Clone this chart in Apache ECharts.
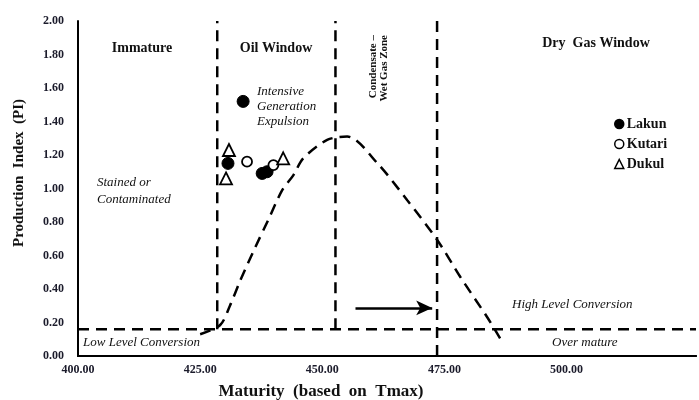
<!DOCTYPE html>
<html><head><meta charset="utf-8">
<script src="https://cdn.jsdelivr.net/npm/echarts@6/dist/echarts.min.js"></script>
<style>html,body{margin:0;padding:0;background:#fff}#c{width:699px;height:400px}</style>
</head><body><div id="c"></div>
<script>
// ---- data ----
const lakunTmax = [433.8, 430.7, 437.7, 438.7];
const lakunPI   = [1.52, 1.15, 1.09, 1.10];
const kutariTmax = [434.6, 440.0];
const kutariPI   = [1.16, 1.14];
const dukulTmax = [430.9, 430.3, 442.0];
const dukulPI   = [1.23, 1.06, 1.18];
const curveTmax = [425.0, 429.1, 431.1, 433.2, 436.3, 438.9, 441.8, 444.1, 446.1, 451.0, 455.1, 461.3, 467.4, 473.6, 478.3, 483.8, 486.5];
const curvePI   = [0.13, 0.185, 0.30, 0.45, 0.65, 0.81, 0.99, 1.08, 1.18, 1.29, 1.31, 1.15, 0.93, 0.69, 0.47, 0.23, 0.10];
const zoneTmax = [428.5, 452.7, 473.5];
const zoneBottomPI = [0.16, 0.16, 0];
const zoneTopPI = 2.0;
const conversionPI = 0.16;
const arrowTmax = [456.8, 472.5];
const arrowPI = 0.287;
const xMin = 400, xMax = 526.5, xStep = 25, xLastLabel = 500;
const yMin = 0, yMax = 2, yStep = 0.2;

const serif = '"Liberation Serif", "Times New Roman", serif';
const dash = [11, 7];
const black = '#000';

const series = [];
zoneTmax.forEach((x, i) => {
  series.push({
    type: 'line', silent: true, symbol: 'none', z: 2,
    data: [[x, zoneBottomPI[i]], [x, zoneTopPI]],
    lineStyle: { color: black, width: 2.5, type: dash }
  });
});
series.push({
  type: 'line', silent: true, symbol: 'none', z: 2,
  data: [[xMin, conversionPI], [xMax, conversionPI]],
  lineStyle: { color: black, width: 2.5, type: dash }
});
series.push({
  type: 'line', silent: true, symbol: 'none', z: 2, smooth: 0.3,
  data: curveTmax.map((x, i) => [x, curvePI[i]]),
  lineStyle: { color: black, width: 2.5, type: dash },
  markLine: {
    silent: true, symbol: ['none', 'arrow'], symbolSize: [11, 16],
    label: { show: false },
    lineStyle: { color: black, width: 2.5, type: 'solid' },
    data: [[{ coord: [arrowTmax[0], arrowPI] }, { coord: [arrowTmax[1], arrowPI] }]]
  }
});
series.push({
  name: 'Lakun', type: 'scatter', z: 5, symbol: 'circle', symbolSize: 12,
  itemStyle: { color: black, borderColor: black, borderWidth: 1, opacity: 1 },
  data: lakunTmax.map((x, i) => [x, lakunPI[i]])
});
series.push({
  name: 'Kutari', type: 'scatter', z: 5, symbol: 'circle', symbolSize: 10,
  itemStyle: { color: '#fff', borderColor: black, borderWidth: 1.8, opacity: 1 },
  data: kutariTmax.map((x, i) => [x, kutariPI[i]])
});
series.push({
  name: 'Dukul', type: 'scatter', z: 5, symbol: 'triangle', symbolSize: 12,
  itemStyle: { color: '#fff', borderColor: black, borderWidth: 1.8, opacity: 1 },
  data: dukulTmax.map((x, i) => [x, dukulPI[i]])
});

const txt = (text, x, y, font, extra) => ({
  type: 'text', x, y, silent: true,
  style: Object.assign({ text, font, fill: '#111', align: 'left', verticalAlign: 'middle' }, extra || {})
});

const chart = echarts.init(document.getElementById('c'), null, { renderer: 'canvas' });
chart.setOption({
  animation: false,
  backgroundColor: '#fff',
  grid: { left: 78, right: 2, top: 21, bottom: 44 },
  legend: {
    orient: 'vertical', left: 609, top: 112, itemGap: 6, itemWidth: 9, itemHeight: 9,
    data: ['Lakun', 'Kutari', 'Dukul'],
    itemStyle: { borderWidth: 1.5 },
    textStyle: { fontFamily: serif, fontWeight: 'bold', fontSize: 14, color: '#111', padding: [0, 0, 0, -2] }
  },
  xAxis: [{
    type: 'value', min: xMin, max: xMax, interval: xStep,
    axisLine: { show: true, onZero: false, lineStyle: { color: black, width: 2 } },
    axisTick: { show: false }, splitLine: { show: false },
    axisLabel: {
      margin: 8, fontFamily: serif, fontWeight: 'bold', fontSize: 12, color: '#1b1b2b',
      formatter: v => v <= xLastLabel ? v.toFixed(2) : ''
    }
  }, {
    type: 'value', position: 'top', min: xMin, max: xMax,
    axisLine: { show: true, lineStyle: { color: black, width: 2 } },
    axisTick: { show: false }, splitLine: { show: false }, axisLabel: { show: false }
  }],
  yAxis: {
    type: 'value', min: yMin, max: yMax, interval: yStep,
    axisLine: { show: true, lineStyle: { color: black, width: 2 } },
    axisTick: { show: false }, splitLine: { show: false },
    axisLabel: {
      margin: 14, fontFamily: serif, fontWeight: 'bold', fontSize: 12, color: '#1b1b2b',
      formatter: v => v.toFixed(2)
    }
  },
  series,
  graphic: [
    txt('Immature', 142, 48, 'bold 14px ' + serif, { align: 'center' }),
    txt('Oil Window', 276, 48, 'bold 14px ' + serif, { align: 'center' }),
    txt('Dry  Gas Window', 596, 43, 'bold 14px ' + serif, { align: 'center' }),
    txt('Intensive', 257, 92, 'italic 13px ' + serif),
    txt('Generation', 257, 107, 'italic 13px ' + serif),
    txt('Expulsion', 257, 122, 'italic 13px ' + serif),
    txt('Stained or', 97, 183, 'italic 13px ' + serif),
    txt('Contaminated', 97, 200, 'italic 13px ' + serif),
    txt('Low Level Conversion', 83, 343, 'italic 13px ' + serif),
    txt('High Level Conversion', 512, 305, 'italic 13px ' + serif),
    txt('Over mature', 552, 343, 'italic 13px ' + serif),
    Object.assign(txt('Condensate –', 373, 35, 'bold 11px ' + serif, { align: 'right' }), { rotation: Math.PI / 2 }),
    Object.assign(txt('Wet Gas Zone', 384, 35, 'bold 11px ' + serif, { align: 'right' }), { rotation: Math.PI / 2 }),
    Object.assign(txt('Production  Index  (PI)', 19, 173, 'bold 15px ' + serif, { align: 'center' }), { rotation: Math.PI / 2 }),
    txt('Maturity  (based  on  Tmax)', 321, 392, 'bold 17px ' + serif, { align: 'center' })
  ]
});
</script>
</body></html>
